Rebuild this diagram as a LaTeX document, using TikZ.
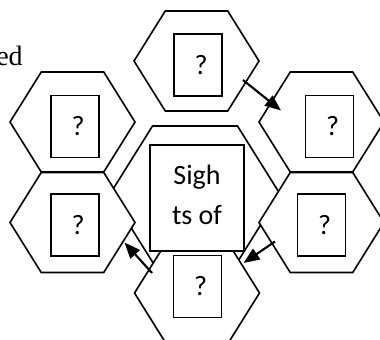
\documentclass[tikz,border=0pt]{standalone}
\usepackage{fontspec}
\setmainfont{Carlito}
\newfontfamily\edfont{Liberation Serif}
\usetikzlibrary{arrows.meta}

\begin{document}
\begin{tikzpicture}[
  x=0.75pt, y=-0.75pt,
  hexa/.style={draw=black, fill=white, line width=1.2pt, line join=miter},
  qbox/.style={draw=black, fill=white, line width=1.1pt, minimum width=36pt,
               minimum height=46.5pt, inner sep=0pt, font=\fontsize{21}{25}\selectfont},
  sbox/.style={draw=black, fill=white, line width=1.1pt, minimum width=70.5pt,
               minimum height=79.5pt, inner sep=0pt, align=center, text depth=5.25pt,
               font=\fontsize{21}{30}\selectfont},
  link/.style={-{Triangle[length=12pt, width=9.5pt]}, line width=1.6pt}
]
\useasboundingbox (0,0) rectangle (380,340);
\clip (0,0) rectangle (380,340);

% cut-off word at the top left
\node[font=\edfont\fontsize{21}{25}\selectfont, anchor=base west, inner sep=0pt]
  (edtxt) at (-4,65) {ed};

% ================================================= hexagon cells
\newcommand{\hexcell}[3]{% centre, half width, half height
  \path[hexa, shift={#1}, xscale=#2, yscale=#3]
    (-1,0) -- (-0.5,-1) -- (0.5,-1) -- (1,0) -- (0.5,1) -- (-0.5,1) -- cycle;}
\hexcell{(195,194)}{85}{68}      % centre
\hexcell{(196.5,61)}{62.5}{50}   % top
\hexcell{(72.5,122)}{62.5}{50}   % left upper
\hexcell{(72.5,222.5)}{62.5}{50} % left lower
\hexcell{(321.5,122)}{62.5}{50}  % right upper
\hexcell{(321.5,222.5)}{62.5}{50}% right lower
\hexcell{(197,293)}{62.5}{50}    % bottom

% ================================================= boxes
\node[sbox] (sights) at (197,198) {Sigh\\ts of};
\node[qbox] (qtop) at (198,65)    {\hspace*{4.5pt}?};
\node[qbox] (qlu)  at (75,126.5)  {\hspace*{4.5pt}?};
\node[qbox] (qll)  at (75,225)    {\hspace*{4.5pt}?};
\node[qbox] (qru)  at (329.5,126.5) {\hspace*{4.5pt}?};
\node[qbox] (qrl)  at (321.5,225) {\hspace*{4.5pt}?};
\node[qbox] (qbot) at (197.5,286.5) {\hspace*{4.5pt}?};

% ================================================= arrows
\coordinate (topout) at (243,80);
\coordinate (ruin)   at (281,110.5);
\coordinate (botout) at (152,273);
\coordinate (llin)   at (124.5,242.5);
\coordinate (rlout)  at (275,241.5);
\coordinate (botin)  at (243.5,263);
\draw[link] (topout) -- (ruin);
\draw[link] (botout) -- (llin);
\draw[link] (rlout) -- (botin);

\end{tikzpicture}
\end{document}
